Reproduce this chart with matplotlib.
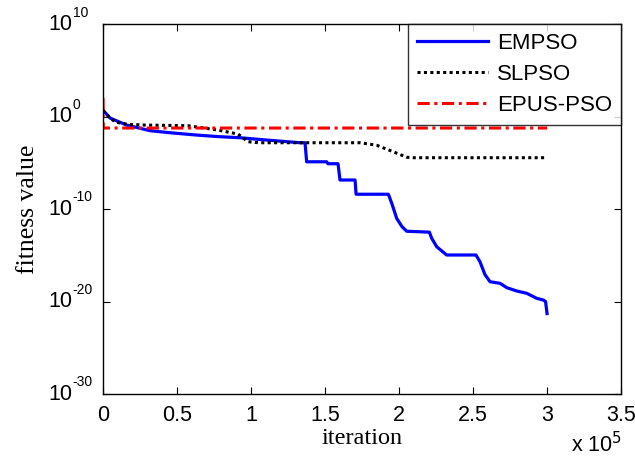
import numpy as np
import matplotlib
matplotlib.use("Agg")
import matplotlib.pyplot as plt
import matplotlib.transforms as mtransforms

plt.rcParams["font.family"] = ["Liberation Sans", "DejaVu Sans"]
plt.rcParams["axes.unicode_minus"] = False

# iteration in units of 1e5, fitness as log10 values
empso_x = [0, 0.047, 0.16, 0.318, 0.453, 0.633, 0.79, 0.926, 1.106, 1.331, 1.365, 1.376,
           1.511, 1.52, 1.588, 1.601, 1.703, 1.71, 1.928, 1.951, 1.984, 2.02, 2.052,
           2.205, 2.221, 2.255, 2.322, 2.52, 2.547, 2.581, 2.615, 2.682, 2.728, 2.795,
           2.863, 2.93, 2.975, 2.99, 3.0]
empso_log = [0.7, -0.16, -0.92, -1.53, -1.75, -2.0, -2.18, -2.29, -2.54, -2.83, -2.83, -4.89,
             -4.89, -5.1, -5.1, -6.86, -6.86, -8.4, -8.4, -9.38, -11.0, -11.9, -12.4,
             -12.5, -13.17, -14.08, -14.97, -14.97, -15.7, -17.1, -17.86, -18.03, -18.5, -18.86,
             -19.11, -19.65, -19.84, -20.0, -21.3]
slpso_x = [0, 0.0135, 0.081, 0.169, 0.284, 0.574, 0.777, 0.912, 0.98, 1.05, 1.736, 1.849,
           1.96, 2.052, 2.1, 3.0]
slpso_log = [0.7, 0.38, -0.59, -0.84, -0.92, -0.99, -1.46, -1.89, -2.72, -2.83, -2.83, -3.1,
             -3.8, -4.4, -4.45, -4.45]
epus_x = [0, 0.002, 3.0]
epus_log = [2.0, -1.24, -1.24]

xticks = [0, 0.5, 1, 1.5, 2, 2.5, 3, 3.5]
xticklabels = ["0", "0.5", "1", "1.5", "2", "2.5", "3", "3.5"]
yexps = [-30, -20, -10, 0, 10]

fig = plt.figure(figsize=(6.35, 4.63), dpi=100)
ax = fig.add_axes([0.1622, 0.149, 0.8158, 0.799])

ax.plot(empso_x, 10.0 ** np.array(empso_log), color="#0000FF", lw=2.3, label="EMPSO")
ax.plot(slpso_x, 10.0 ** np.array(slpso_log), color="black", lw=2.2, ls=(0, (1, 1.1)), label="SLPSO")
ax.plot(epus_x, 10.0 ** np.array(epus_log), color="#FF0000", lw=2.2, ls=(0, (4, 1.5, 1, 1.5)),
        label="EPUS-PSO")

ax.set_yscale("log")
ax.set_xlim(0, 3.5)
ax.set_ylim(1e-30, 1e10)
ax.set_yticks([10.0 ** e for e in yexps])
ax.set_yticklabels([])
ax.yaxis.set_minor_locator(matplotlib.ticker.NullLocator())
ax.set_xticks(xticks)
ax.set_xticklabels(xticklabels)
ax.tick_params(direction="in", length=5, width=0.8, labelsize=15.5, top=True, right=True, pad=8)
for s in ax.spines.values():
    s.set_linewidth(1.0)

# MATLAB-style y tick labels: base right aligned, exponent left aligned
tr = mtransforms.blended_transform_factory(fig.transFigure, ax.transData)
for e in yexps:
    ax.text(72 / 635, 10.0 ** e, "10", transform=tr, ha="right", va="center", fontsize=15.5)
    ax.text(72.5 / 635, 10.0 ** (e + 1.25), str(e), transform=tr, ha="left", va="center",
            fontsize=10, clip_on=False)

ax.set_xlabel("iteration", family="Liberation Serif", fontsize=17.5, labelpad=1)
ax.set_ylabel("fitness value", family="Liberation Serif", fontsize=18.5, labelpad=38)
fig.text(0.899, 0.012, r"x 10$^{5}$", fontsize=15.5, ha="left", va="bottom")

leg = ax.legend(loc="upper right", fontsize=16, frameon=True, fancybox=False, borderaxespad=0,
                handlelength=3.2, handletextpad=0.4, labelspacing=0.45, borderpad=0.4)
leg.get_frame().set_edgecolor("black")
leg.get_frame().set_linewidth(1.0)

fig.savefig("out.png", dpi=100)
